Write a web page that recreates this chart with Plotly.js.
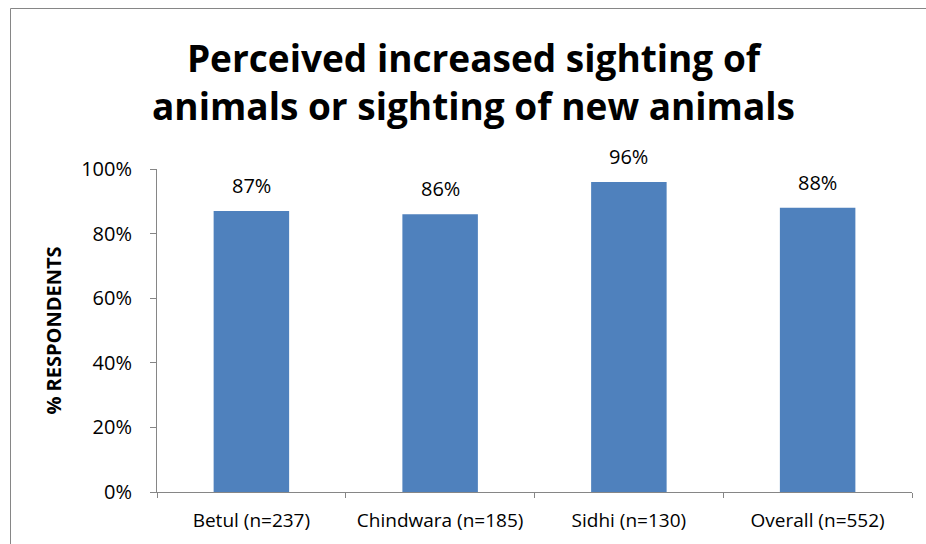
<!DOCTYPE html>
<html>
<head>
<meta charset="utf-8">
<script src="https://cdn.plot.ly/plotly-3.0.1.min.js"></script>
<style>
  html, body { margin: 0; padding: 0; background: #ffffff; }
  #chart { width: 926px; height: 544px; }
</style>
</head>
<body>
<div id="chart"></div>
<script>
// Districts surveyed and the share of respondents reporting more / new animal sightings
const categories = ["Betul (n=237)", "Chindwara (n=185)", "Sidhi (n=130)", "Overall (n=552)"];
const shares = [0.87, 0.86, 0.96, 0.88];
const yTickValues = [0, 0.2, 0.4, 0.6, 0.8, 1.0];
const yTickLabels = ["0%", "20%", "40%", "60%", "80%", "100%"];

const FONT = "Open Sans, Noto Sans, sans-serif";
const AXIS_GREY = "#868686";

const bars = {
  type: "bar",
  x: categories,
  y: shares,
  width: 0.4,
  marker: { color: "#4F81BD", line: { width: 0 } },
  hoverinfo: "x+y"
};

// Value labels sitting above each bar
const valueLabels = categories.map((c, i) => ({
  x: c,
  y: shares[i],
  xref: "x",
  yref: "y",
  text: Math.round(shares[i] * 100) + "%",
  showarrow: false,
  yanchor: "bottom",
  yshift: 10,
  font: { family: FONT, size: 20, color: "#000000" }
}));

const layout = {
  width: 926,
  height: 544,
  margin: { l: 157, r: 14, t: 169, b: 52 },
  paper_bgcolor: "#ffffff",
  plot_bgcolor: "#ffffff",
  showlegend: false,
  bargap: 0.6,
  title: {
    text: "<b>Perceived increased sighting of<br>animals or sighting of new animals</b>",
    font: { family: FONT, size: 37, color: "#000000" },
    x: 473.5 / 926,
    xanchor: "center",
    xref: "container",
    y: 1 - 72 / 544,
    yanchor: "top",
    yref: "container"
  },
  xaxis: {
    type: "category",
    showline: true,
    linecolor: AXIS_GREY,
    linewidth: 1,
    ticks: "outside",
    tickson: "boundaries",
    ticklen: 5,
    tickcolor: AXIS_GREY,
    showgrid: false,
    zeroline: false,
    ticklabelstandoff: 11,
    tickfont: { family: FONT, size: 19, color: "#000000" },
    fixedrange: true
  },
  yaxis: {
    range: [0, 1],
    tickvals: yTickValues,
    ticktext: yTickLabels,
    showline: true,
    linecolor: AXIS_GREY,
    linewidth: 1,
    ticks: "outside",
    ticklen: 6,
    tickcolor: AXIS_GREY,
    showgrid: false,
    zeroline: false,
    ticklabelstandoff: 14,
    tickfont: { family: FONT, size: 20, color: "#000000" },
    title: {
      text: "<b>% RESPONDENTS</b>",
      font: { family: FONT, size: 20, color: "#000000" },
      standoff: 14
    },
    fixedrange: true
  },
  annotations: valueLabels,
  shapes: [
    // chart frame, open at the right and bottom edges
    {
      type: "rect",
      xref: "paper",
      yref: "paper",
      x0: (10.5 - 157) / 755,
      x1: (940 - 157) / 755,
      y0: (492 - 560) / 323,
      y1: (492 - 8.5) / 323,
      line: { color: AXIS_GREY, width: 1 },
      fillcolor: "rgba(0,0,0,0)",
      layer: "below"
    }
  ]
};

Plotly.newPlot("chart", [bars], layout, { displayModeBar: false, staticPlot: true });
</script>
</body>
</html>
